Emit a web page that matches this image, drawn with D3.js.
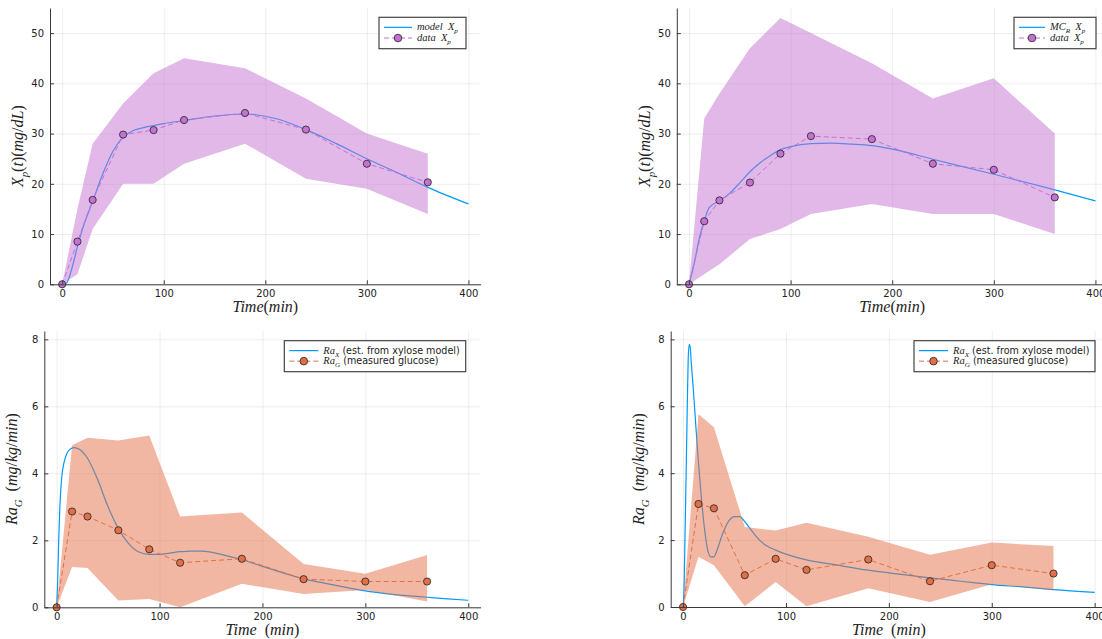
<!DOCTYPE html>
<meta charset="utf-8">
<html>
  <head>
    <title>xylose / glucose appearance</title>
    <style>
      body { margin: 0; background: #fff; }
      .tick text { font-family: "DejaVu Sans", sans-serif; font-size: 10px; fill: #222; }
      .axis path, .axis line { stroke: #3a3a3a; stroke-width: 1px; }
      .grid line { stroke: #000; stroke-opacity: 0.07; stroke-width: 1px; }
      .grid path { stroke: none; }
      .math { font-family: "Liberation Serif", "DejaVu Serif", serif; fill: #222; }
    </style>
  </head>
  <body>
    <script src="https://d3js.org/d3.v7.min.js"></script>
    <script>

      // sample times (min)
      var times = [0, 15, 30, 60, 90, 120, 180, 240, 300, 360];

      // top-left: model X_p
      var xpData1  = [0, 8.5, 16.8, 29.8, 30.7, 32.7, 34.1, 30.8, 24.0, 20.3];
      var xpUpper1 = [0, 15, 28, 36, 42, 45, 43, 37, 30, 26];
      var xpLower1 = [0, 2, 11, 20, 20, 24, 28, 21, 19, 14];
      var modelT1  = [0, 4, 10, 15, 20, 30, 40, 50, 60, 70, 80, 90, 100, 120, 150, 180, 210, 240, 270, 300, 330, 360, 400];
      var modelXp1 = [0, 0.2, 3.5, 7.5, 11, 16.5, 22, 26.5, 29.3, 30.6, 31.2, 31.6, 32, 32.6, 33.5, 33.9, 33, 30.8, 28, 25, 22.2, 19.3, 16];

      // top-right: MC_R X_p
      var xpData2  = [0, 12.55, 16.7, 20.25, 26.0, 29.5, 28.9, 24.0, 22.8, 17.3];
      var xpUpper2 = [0, 33, 38, 47, 53, 50, 44, 37, 41, 30];
      var xpLower2 = [0, 2, 4, 9, 11, 14, 16, 14, 14, 10];
      var modelT2  = [0, 5, 10, 15, 20, 30, 40, 50, 60, 70, 80, 90, 100, 120, 140, 160, 180, 200, 240, 300, 360, 400];
      var modelXp2 = [0, 4, 9, 12.6, 15.3, 16.6, 18.1, 20.2, 22.4, 24.2, 25.6, 26.8, 27.4, 28, 28.1, 27.9, 27.6, 26.9, 24.9, 21.9, 18.8, 16.6];

      // bottom-left: Ra
      var raG3     = [0, 2.86, 2.71, 2.30, 1.73, 1.33, 1.45, 0.84, 0.77, 0.77];
      var raUpper3 = [0, 4.84, 5.06, 4.98, 5.13, 2.71, 2.83, 1.29, 1.0, 1.56];
      var raLower3 = [0, 1.2, 1.17, 0.2, 0.25, 0, 0.7, 0.4, 0.52, 0.17];
      var raT3     = [0, 1, 2, 3, 4, 5, 7, 10, 14, 17, 22, 30, 40, 50, 60, 70, 80, 90, 100, 110, 120, 130, 140, 150, 160, 170, 180, 200, 220, 240, 260, 280, 300, 320, 340, 360, 380, 400];
      var raX3     = [0, 0.8, 2.0, 2.9, 3.5, 3.9, 4.3, 4.6, 4.74, 4.77, 4.72, 4.45, 3.8, 3.0, 2.35, 1.9, 1.65, 1.58, 1.58, 1.62, 1.66, 1.68, 1.68, 1.65, 1.58, 1.5, 1.42, 1.22, 1.03, 0.85, 0.72, 0.6, 0.49, 0.41, 0.35, 0.3, 0.25, 0.21];

      // bottom-right: Ra
      var raG4     = [0, 3.08, 2.95, 0.95, 1.44, 1.11, 1.42, 0.77, 1.25, 1.0];
      var raUpper4 = [0, 5.76, 5.37, 2.39, 2.29, 2.52, 2.1, 1.56, 1.93, 1.82];
      var raLower4 = [0, 1.5, 1.25, 0.02, 0.75, 0.02, 0.56, 0.15, 0.68, 0.5];
      var raT4     = [0, 1, 2, 3, 4, 5, 6, 7, 8, 10, 12, 15, 18, 21, 24, 27, 30, 33, 38, 44, 50, 55, 60, 65, 70, 80, 90, 100, 120, 150, 180, 210, 240, 270, 300, 330, 360, 400];
      var raX4     = [0, 0.6, 2.3, 4.0, 5.8, 7.4, 7.85, 7.75, 7.3, 6.5, 5.6, 4.3, 3.2, 2.3, 1.7, 1.5, 1.5, 1.7, 2.15, 2.55, 2.7, 2.7, 2.55, 2.35, 2.15, 1.85, 1.7, 1.58, 1.41, 1.25, 1.1, 0.98, 0.87, 0.77, 0.67, 0.6, 0.52, 0.44];

      var xTicks = [0, 100, 200, 300, 400];
      var xpTicks = [0, 10, 20, 30, 40, 50];
      var raTicks = [0, 2, 4, 6, 8];

      var blue = "#009afa", orange = "#e36f47", purple = "#c371d2";

      var svg = d3.select("body").append("svg")
          .attr("width", 1102)
          .attr("height", 639);

      // pieces: [text, italic, sub]
      function mathText(g, pieces, size) {
        var t = g.append("text").attr("class", "math").style("font-size", size + "px");
        var shift = 0;
        pieces.forEach(function(p) {
          var s = t.append("tspan").text(p[0])
              .style("font-style", p[1] ? "italic" : "normal");
          var want = p[2] ? size * 0.3 : 0;
          if (want !== shift) { s.attr("dy", want - shift); shift = want; }
          if (p[2]) s.style("font-size", (size * 0.68) + "px");
        });
        return t;
      }

      function panel(c) {
        var g = svg.append("g");
        var x = d3.scaleLinear().domain([-12, 412]).range([c.left, c.left + c.w]);
        var y = d3.scaleLinear().domain(c.ydom).range([c.bottom, c.top]);

        g.append("g").attr("class", "grid")
            .attr("transform", "translate(0," + c.bottom + ")")
            .call(d3.axisBottom(x).tickValues(xTicks).tickSize(-(c.bottom - c.top)).tickFormat(""));
        g.append("g").attr("class", "grid")
            .attr("transform", "translate(" + c.left + ",0)")
            .call(d3.axisLeft(y).tickValues(c.yticks).tickSize(-c.w).tickFormat(""));

        // model / estimated curve
        g.append("path")
            .attr("d", d3.line().curve(d3.curveMonotoneX)
              .x(function(d, i) { return x(c.mt[i]); })
              .y(function(d) { return y(d); })(c.model))
            .attr("fill", "none").attr("stroke", blue).attr("stroke-width", 1.2);

        // ribbon
        var rib = times.map(function(t, i) { return [t, c.lower[i], c.upper[i]]; });
        g.append("path")
            .attr("d", d3.area()
              .x(function(d) { return x(d[0]); })
              .y0(function(d) { return y(d[1]); })
              .y1(function(d) { return y(d[2]); })(rib))
            .attr("fill", c.color).attr("fill-opacity", 0.5);

        // data
        g.append("path")
            .attr("d", d3.line()
              .x(function(d, i) { return x(times[i]); })
              .y(function(d) { return y(d); })(c.data))
            .attr("fill", "none").attr("stroke", c.color)
            .attr("stroke-width", 1).attr("stroke-dasharray", "5,3");

        g.selectAll(".pt").data(c.data).enter().append("circle")
            .attr("cx", function(d, i) { return x(times[i]); })
            .attr("cy", function(d) { return y(d); })
            .attr("r", 3.6)
            .attr("fill", c.color).attr("stroke", "#222").attr("stroke-width", 0.8);

        g.append("g").attr("class", "axis")
            .attr("transform", "translate(0," + c.bottom + ")")
            .call(d3.axisBottom(x).tickValues(xTicks).tickSizeInner(-4).tickSizeOuter(0).tickPadding(6));
        g.append("g").attr("class", "axis")
            .attr("transform", "translate(" + c.left + ",0)")
            .call(d3.axisLeft(y).tickValues(c.yticks).tickSizeInner(-4).tickSizeOuter(0).tickPadding(6));

        // axis titles
        mathText(g, c.xlabel, 16)
            .attr("x", x(200)).attr("y", c.bottom + 28).attr("text-anchor", "middle");
        mathText(g, c.ylabel, 16)
            .attr("text-anchor", "middle")
            .attr("transform", "translate(" + (c.left - 27) + "," + ((c.top + c.bottom) / 2) + ") rotate(-90)");

        // legend
        var L = c.leg;
        g.append("rect").attr("x", L.x).attr("y", L.y).attr("width", L.w).attr("height", L.h)
            .attr("fill", "#fff").attr("stroke", "#444").attr("stroke-width", 1.2);
        var r1 = L.y + L.h * 0.32, r2 = L.y + L.h * 0.66;
        g.append("line").attr("x1", L.x + 5).attr("x2", L.x + 5 + L.lw).attr("y1", r1).attr("y2", r1)
            .attr("stroke", blue).attr("stroke-width", 1.2);
        g.append("line").attr("x1", L.x + 5).attr("x2", L.x + 5 + L.lw).attr("y1", r2).attr("y2", r2)
            .attr("stroke", c.color).attr("stroke-dasharray", "5,3");
        g.append("circle").attr("cx", L.x + 5 + L.lw / 2).attr("cy", r2).attr("r", 3.8)
            .attr("fill", c.color).attr("stroke", "#222").attr("stroke-width", 0.8);
        L.items.forEach(function(it, i) {
          var tx = mathText(g, it.math, 10.5).attr("x", L.x + L.lw + 10).attr("y", (i ? r2 : r1) + 3);
          if (it.rest) tx.append("tspan").attr("dy", -10.5 * 0.3)
              .style("font-family", "DejaVu Sans, sans-serif").style("font-size", "9.6px")
              .style("font-style", "normal").text(it.rest);
        });
      }

      var xlabTop = [["Time", 1], ["(", 0], ["min", 1], [")", 0]];
      var xlabBot = [["Time", 1], ["\u2002(", 0], ["min", 1], [")", 0]];
      var ylabTop = [["X", 1], ["p", 1, 1], ["(", 0], ["t", 1], [")(", 0], ["mg", 1], ["/", 0], ["dL", 1], [")", 0]];
      var ylabBot = [["Ra", 1], ["G", 1, 1], ["\u2002(", 0], ["mg", 1], ["/", 0], ["kg", 1], ["/", 0], ["min", 1], [")", 0]];

      panel({ left: 50, w: 430.6, top: 8, bottom: 284.3, ydom: [0, 55], yticks: xpTicks,
              color: purple, mt: modelT1, model: modelXp1, data: xpData1, upper: xpUpper1, lower: xpLower1,
              xlabel: xlabTop, ylabel: ylabTop,
              leg: { x: 379, y: 17.3, w: 87, h: 31.4, lw: 28,
                     items: [{ math: [["model", 1], ["\u2002X", 1], ["p", 1, 1]] },
                             { math: [["data", 1], ["\u2002X", 1], ["p", 1, 1]] }] } });

      panel({ left: 676.8, w: 430.8, top: 8, bottom: 284.3, ydom: [0, 55], yticks: xpTicks,
              color: purple, mt: modelT2, model: modelXp2, data: xpData2, upper: xpUpper2, lower: xpLower2,
              xlabel: xlabTop, ylabel: ylabTop,
              leg: { x: 1014, y: 17.3, w: 82, h: 31.4, lw: 26,
                     items: [{ math: [["MC", 1], ["R", 1, 1], ["\u2002X", 1], ["p", 1, 1]] },
                             { math: [["data", 1], ["\u2002X", 1], ["p", 1, 1]] }] } });

      panel({ left: 44.3, w: 436.3, top: 331, bottom: 607.3, ydom: [0, 8.25], yticks: raTicks,
              color: orange, mt: raT3, model: raX3, data: raG3, upper: raUpper3, lower: raLower3,
              xlabel: xlabBot, ylabel: ylabBot,
              leg: { x: 284.3, y: 340.7, w: 181.4, h: 31, lw: 29,
                     items: [{ math: [["Ra", 1], ["X", 1, 1]], rest: " (est. from xylose model)" },
                             { math: [["Ra", 1], ["G", 1, 1]], rest: " (measured glucose)" }] } });

      panel({ left: 670.7, w: 436.3, top: 331, bottom: 607, ydom: [0, 8.25], yticks: raTicks,
              color: orange, mt: raT4, model: raX4, data: raG4, upper: raUpper4, lower: raLower4,
              xlabel: xlabBot, ylabel: ylabBot,
              leg: { x: 914, y: 340.7, w: 181, h: 31, lw: 29,
                     items: [{ math: [["Ra", 1], ["X", 1, 1]], rest: " (est. from xylose model)" },
                             { math: [["Ra", 1], ["G", 1, 1]], rest: " (measured glucose)" }] } });

    </script>
  </body>
</html>
